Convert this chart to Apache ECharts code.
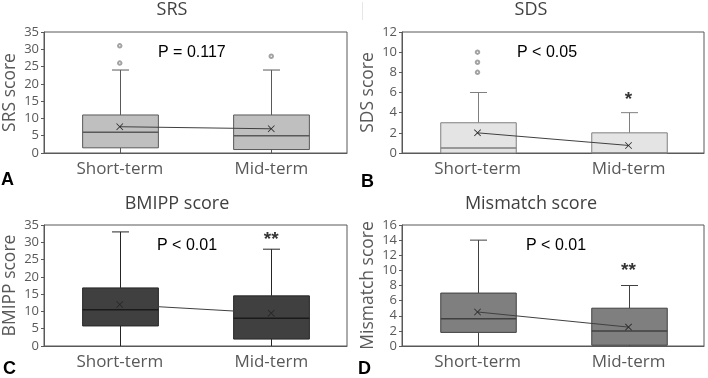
<!DOCTYPE html>
<html>
<head>
<meta charset="utf-8">
<script src="https://cdn.jsdelivr.net/npm/echarts@6/dist/echarts.min.js"></script>
<style>
html, body { margin: 0; padding: 0; background: #fff; }
#main { width: 708px; height: 378px; }
</style>
</head>
<body>
<div id="main"></div>
<script>
var categories = ['Short-term', 'Mid-term'];

// box stats per panel: [min, Q1, median, Q3, max]
var srsBox = [[0, 1.5, 6, 11, 24], [0, 1, 5, 11, 24]];
var srsMean = [7.6, 7];
var srsOut = [[0, 26], [0, 31], [1, 28]];

var sdsBox = [[0, 0, 0.5, 3, 6], [0, 0, 0, 2, 4]];
var sdsMean = [2, 0.75];
var sdsOut = [[0, 8], [0, 9], [0, 10]];

var bmippBox = [[0, 5.8, 10.5, 16.8, 33], [0, 2, 8, 14.5, 28]];
var bmippMean = [12, 9.5];

var misBox = [[0, 1.8, 3.6, 7, 14], [0, 0.1, 2, 5, 8]];
var misMean = [4.5, 2.5];

var panels = [
  { box: srsBox, mean: srsMean, out: srsOut, max: 35, step: 5, name: 'SRS score', fill: '#bfbfbf', edge: '#595959', star: null },
  { box: sdsBox, mean: sdsMean, out: sdsOut, max: 12, step: 2, name: 'SDS score', fill: '#e4e4e4', edge: '#7f7f7f', star: ['*', 5.3] },
  { box: bmippBox, mean: bmippMean, out: [], max: 35, step: 5, name: 'BMIPP score', fill: '#404040', edge: '#262626', star: ['**', 30.6] },
  { box: misBox, mean: misMean, out: [], max: 16, step: 2, name: 'Mismatch score', fill: '#7f7f7f', edge: '#404040', star: ['**', 9.9] }
];

var grids = [
  { left: 43, right: 361, top: 32, height: 121 },
  { left: 402, right: 4, top: 32, height: 121 },
  { left: 43, right: 361, top: 225, height: 121 },
  { left: 402, right: 4, top: 225, height: 121 }
];

var xMark = 'path://M0,0.8L0.8,0L5,4.2L9.2,0L10,0.8L5.8,5L10,9.2L9.2,10L5,5.8L0.8,10L0,9.2L4.2,5Z';

function boxRender(p) {
  return function (params, api) {
    var c = api.value(0);
    var band = api.size([1, 0])[0];
    var hw = band * 0.25;
    var cap = 8.5;
    var pMin = api.coord([c, api.value(1)]);
    var pQ1 = api.coord([c, api.value(2)]);
    var pMed = api.coord([c, api.value(3)]);
    var pQ3 = api.coord([c, api.value(4)]);
    var pMax = api.coord([c, api.value(5)]);
    var x = Math.round(pMin[0]) + 0.5;
    var ls = { stroke: p.edge, lineWidth: 1 };
    return {
      type: 'group',
      children: [
        { type: 'line', shape: { x1: x, y1: pMax[1], x2: x, y2: pQ3[1] }, style: ls },
        { type: 'line', shape: { x1: x, y1: pQ1[1], x2: x, y2: pMin[1] }, style: ls },
        { type: 'line', shape: { x1: x - cap, y1: pMax[1], x2: x + cap, y2: pMax[1] }, style: ls },
        { type: 'rect', shape: { x: x - hw, y: pQ3[1], width: hw * 2, height: pQ1[1] - pQ3[1] },
          style: { fill: p.fill, stroke: p.edge, lineWidth: 1 } },
        { type: 'line', shape: { x1: x - hw, y1: pMed[1], x2: x + hw, y2: pMed[1] },
          style: { stroke: p.edge === '#262626' ? '#1a1a1a' : p.edge, lineWidth: 1.5 } }
      ]
    };
  };
}

var xAxes = [], yAxes = [], series = [];
panels.forEach(function (p, i) {
  xAxes.push({
    gridIndex: i, type: 'category', data: categories,
    axisLine: { lineStyle: { color: '#595959', width: 1 } },
    axisTick: { show: false },
    axisLabel: { color: '#595959', fontSize: 17, fontFamily: 'Open Sans', margin: 8 }
  });
  yAxes.push({
    gridIndex: i, type: 'value', min: 0, max: p.max, interval: p.step,
    name: p.name, nameLocation: 'middle', nameGap: 25,
    nameTextStyle: { color: '#595959', fontSize: 17.5, fontFamily: 'Open Sans' },
    axisLine: { show: true, lineStyle: { color: '#595959' } },
    axisTick: { show: true, length: 3, lineStyle: { color: '#595959' } },
    axisLabel: { color: '#595959', fontSize: 13, fontFamily: 'Open Sans', margin: 5 },
    splitLine: { show: false }
  });
  series.push({
    type: 'custom', xAxisIndex: i, yAxisIndex: i, z: 2,
    renderItem: boxRender(p),
    encode: { x: 0, y: [1, 2, 3, 4, 5] },
    data: p.box.map(function (b, k) { return [k].concat(b); })
  });
  series.push({
    type: 'line', xAxisIndex: i, yAxisIndex: i, z: 3,
    data: p.mean,
    symbol: xMark, symbolSize: 7,
    lineStyle: { color: '#404040', width: 1 },
    itemStyle: { color: '#262626' }
  });
  if (p.out.length) {
    series.push({
      type: 'scatter', xAxisIndex: i, yAxisIndex: i, z: 3,
      data: p.out, symbol: 'emptyCircle', symbolSize: 3.5,
      itemStyle: { color: '#8c8c8c', borderWidth: 1 }
    });
  }
  if (p.star) {
    series.push({
      type: 'scatter', xAxisIndex: i, yAxisIndex: i, z: 3,
      data: [[1, p.star[1]]], symbolSize: 0,
      label: { show: true, position: 'inside', formatter: p.star[0],
        color: '#000', fontSize: 19, fontWeight: 'bold', fontFamily: 'Liberation Sans' }
    });
  }
});

var titleStyle = { fill: '#404040', fontSize: 18, fontFamily: 'Open Sans' };
var pStyle = { fill: '#000', fontSize: 16, fontFamily: 'Liberation Sans' };
var letterStyle = { fill: '#000', fontSize: 18, fontWeight: 'bold', fontFamily: 'Liberation Sans' };

function txt(x, y, s, st, align) {
  return { type: 'text', x: x, y: y,
    style: Object.assign({ text: s, textAlign: align || 'left', textVerticalAlign: 'middle' }, st) };
}

var chart = echarts.init(document.getElementById('main'), null, { renderer: 'canvas' });
chart.setOption({
  animation: false,
  backgroundColor: '#fff',
  grid: grids.map(function (g) {
    return Object.assign({ show: true, borderColor: '#595959', borderWidth: 1, backgroundColor: 'transparent' }, g);
  }),
  xAxis: xAxes,
  yAxis: yAxes,
  series: series,
  graphic: [
    txt(172, 10, 'SRS', titleStyle, 'center'),
    txt(531, 10, 'SDS', titleStyle, 'center'),
    txt(177, 204, 'BMIPP score', titleStyle, 'center'),
    txt(531, 204, 'Mismatch score', titleStyle, 'center'),
    txt(158, 53, 'P = 0.117', pStyle),
    txt(517, 53, 'P < 0.05', pStyle),
    txt(157, 246, 'P < 0.01', pStyle),
    txt(526, 246, 'P < 0.01', pStyle),
    txt(1, 180, 'A', letterStyle),
    txt(361, 182, 'B', letterStyle),
    txt(3, 369, 'C', letterStyle),
    txt(358, 369, 'D', letterStyle),
    { type: 'line', shape: { x1: 362.5, y1: 2, x2: 362.5, y2: 20 }, style: { stroke: '#e6e6e6', lineWidth: 1 } }
  ]
});
</script>
</body>
</html>
